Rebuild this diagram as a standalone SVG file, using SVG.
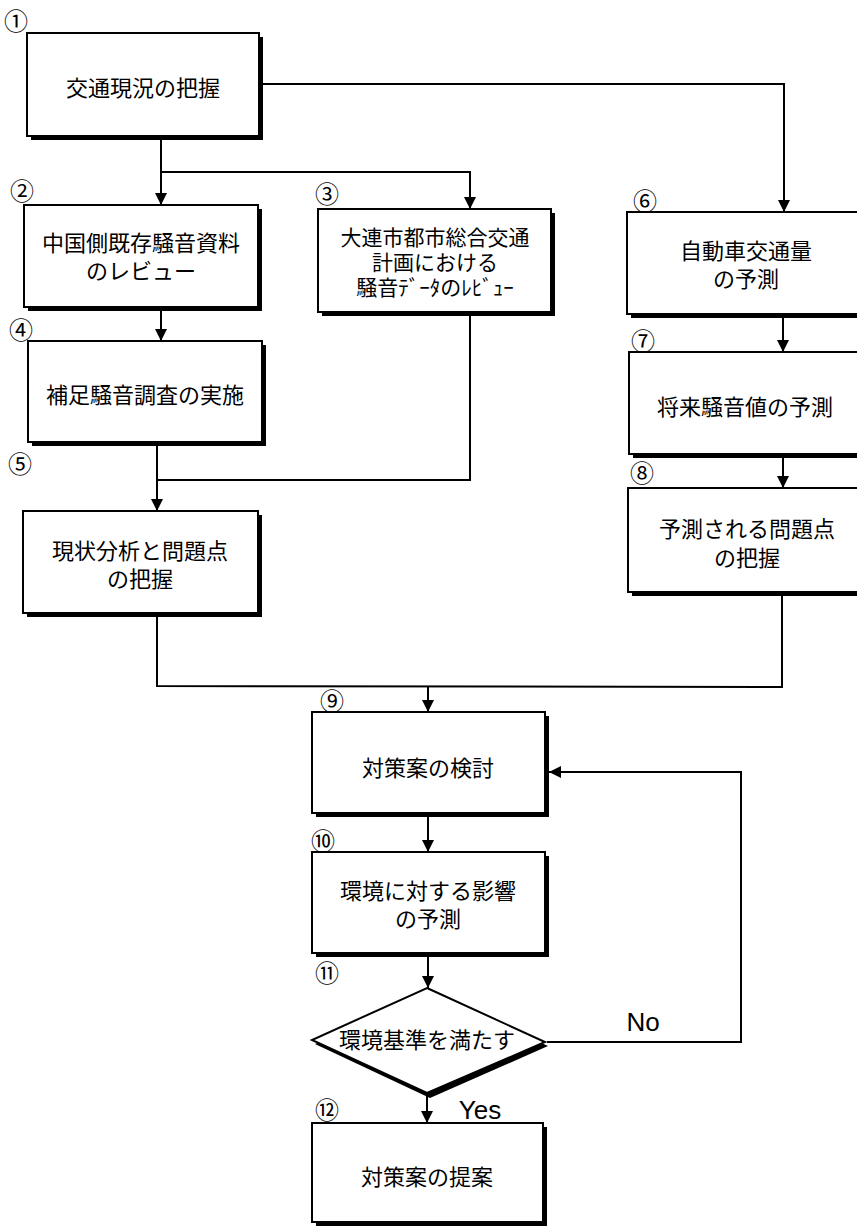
<svg xmlns="http://www.w3.org/2000/svg" width="857" height="1227" viewBox="0 0 857 1227">
<style>
.box{fill:#fff;stroke:#000;stroke-width:2}
.sh{fill:#000}
.t{font-family:"Noto Sans CJK JP","Noto Sans CJK SC",sans-serif;font-size:22px;fill:#000;text-anchor:middle;dominant-baseline:central}
.t3{font-size:21px}
.n{font-family:"Noto Sans CJK JP","Noto Sans CJK SC",sans-serif;font-size:24px;fill:#000;text-anchor:middle;dominant-baseline:central}
.lbl{font-family:"Liberation Sans",Arial,sans-serif;font-size:26px;fill:#000;text-anchor:middle;dominant-baseline:central}
.c{fill:none;stroke:#000;stroke-width:2}
.ca{fill:none;stroke:#000;stroke-width:2;marker-end:url(#arr)}
</style>
<defs>
<marker id="arr" markerWidth="12" markerHeight="12" refX="12" refY="6" orient="auto" markerUnits="userSpaceOnUse"><path d="M0,0 L12,6 L0,12 z" fill="#000"/></marker>
</defs>
<rect width="857" height="1227" fill="#fff"/>
<g id="connectors">
<polyline class="ca" points="259,84 784,84 784,212"/>
<line class="ca" x1="161" y1="136" x2="161" y2="205"/>
<polyline class="ca" points="161,172 470,172 470,209"/>
<line class="ca" x1="161" y1="307" x2="161" y2="341"/>
<line class="ca" x1="157" y1="445" x2="157" y2="511"/>
<polyline class="c" points="470,315 470,480 157,480"/>
<line class="ca" x1="783" y1="317" x2="783" y2="352"/>
<line class="ca" x1="783" y1="457" x2="783" y2="488"/>
<polyline class="c" points="157,616 157,686 782,687 782,595"/>
<line class="ca" x1="428" y1="686" x2="428" y2="712"/>
<line class="ca" x1="428" y1="816" x2="428" y2="852"/>
<line class="ca" x1="428" y1="956" x2="428" y2="988"/>
<polyline class="ca" points="547,1042 741,1042 741,772 549,772"/>
<line class="ca" x1="427" y1="1096" x2="427" y2="1123"/>
<text class="lbl" x="643" y="1022">No</text>
<text class="lbl" x="480" y="1110">Yes</text>
</g>
<g id="n1">
<rect class="sh" x="31" y="37" width="232" height="103"/>
<rect class="box" x="27" y="33" width="232" height="103"/>
<text class="n" x="16" y="19">①</text>
<text class="t" x="143" y="86">交通現況の把握</text>
</g>
<g id="n2">
<rect class="sh" x="28" y="209" width="234" height="102"/>
<rect class="box" x="24" y="205" width="234" height="102"/>
<text class="n" x="22" y="189">②</text>
<text class="t" x="141" y="241">中国側既存騒音資料</text>
<text class="t" x="141" y="269">のレビュー</text>
</g>
<g id="n3">
<rect class="sh" x="322" y="213" width="233" height="103"/>
<rect class="box" x="318" y="209" width="233" height="103"/>
<text class="n" x="327" y="192">③</text>
<text class="t t3" x="435" y="236">大連市都市総合交通</text>
<text class="t t3" x="435" y="261">計画における</text>
<text class="t t3" x="435" y="286">騒音ﾃﾞｰﾀのﾚﾋﾞｭｰ</text>
</g>
<g id="n4">
<rect class="sh" x="32" y="345" width="234" height="101"/>
<rect class="box" x="28" y="341" width="234" height="101"/>
<text class="n" x="21" y="328">④</text>
<text class="t" x="145" y="393">補足騒音調査の実施</text>
</g>
<g id="n5">
<rect class="sh" x="27" y="515" width="235" height="102"/>
<rect class="box" x="23" y="511" width="235" height="102"/>
<text class="n" x="20" y="462">⑤</text>
<text class="t" x="140" y="549">現状分析と問題点</text>
<text class="t" x="140" y="577">の把握</text>
</g>
<g id="n6">
<rect class="sh" x="631" y="216" width="240" height="102"/>
<rect class="box" x="627" y="212" width="240" height="102"/>
<text class="n" x="645" y="199">⑥</text>
<text class="t" x="746" y="249">自動車交通量</text>
<text class="t" x="746" y="277">の予測</text>
</g>
<g id="n7">
<rect class="sh" x="633" y="356" width="240" height="102"/>
<rect class="box" x="629" y="352" width="240" height="102"/>
<text class="n" x="643" y="339">⑦</text>
<text class="t" x="745" y="405">将来騒音値の予測</text>
</g>
<g id="n8">
<rect class="sh" x="632" y="492" width="240" height="104"/>
<rect class="box" x="628" y="488" width="240" height="104"/>
<text class="n" x="642" y="471">⑧</text>
<text class="t" x="747" y="527">予測される問題点</text>
<text class="t" x="747" y="556">の把握</text>
</g>
<g id="n9">
<rect class="sh" x="316" y="716" width="233" height="101"/>
<rect class="box" x="312" y="712" width="233" height="101"/>
<text class="n" x="332" y="699">⑨</text>
<text class="t" x="428" y="766">対策案の検討</text>
</g>
<g id="n10">
<rect class="sh" x="316" y="856" width="233" height="101"/>
<rect class="box" x="312" y="852" width="233" height="101"/>
<text class="n" x="323" y="839">⑩</text>
<text class="t" x="428" y="889">環境に対する影響</text>
<text class="t" x="428" y="917">の予測</text>
</g>
<g id="n11">
<polygon class="sh" points="430,992 548,1046 430,1098 315,1044"/>
<polygon class="box" points="427,988 545,1042 427,1093 312,1040"/>
<text class="n" x="327" y="971">⑪</text>
<text class="t" x="427" y="1038">環境基準を満たす</text>
</g>
<g id="n12">
<rect class="sh" x="316" y="1127" width="231" height="99"/>
<rect class="box" x="312" y="1123" width="231" height="99"/>
<text class="n" x="327" y="1108">⑫</text>
<text class="t" x="427" y="1175">対策案の提案</text>
</g>
</svg>
